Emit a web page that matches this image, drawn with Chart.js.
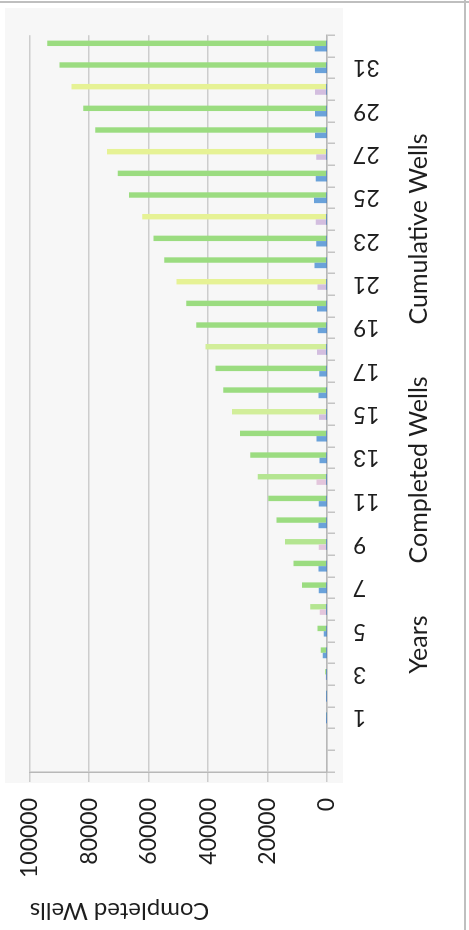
<!DOCTYPE html>
<html>
<head>
<meta charset="utf-8">
<title>Completed Wells</title>
<script src="https://cdn.jsdelivr.net/npm/chart.js@4.4.1/dist/chart.umd.min.js"></script>
<style>
    html, body { margin: 0; padding: 0; background: #fff; overflow: hidden; }
    /* the chart is laid out landscape and turned a quarter turn onto the page */
    #wrap {
        position: absolute;
        left: 0;
        top: 0;
        width: 930px;
        height: 469px;
        transform-origin: 0 0;
        transform: translateY(930px) rotate(-90deg);
    }
</style>
</head>
<body>
<div id="wrap"><canvas id="wellsChart" width="930" height="469"></canvas></div>
<script>
// Categories: two empty slots before year 1
const categories = ['', '', '1', '2', '3', '4', '5', '6', '7', '8', '9', '10', '11', '12', '13', '14', '15', '16',
    '17', '18', '19', '20', '21', '22', '23', '24', '25', '26', '27', '28', '29', '30', '31', '32'];

const years = [null, null, 1, 2, 3, 4, 5, 6, 7, 8, 9, 10, 11, 12, 13, 14, 15, 16,
    17, 18, 19, 20, 21, 22, 23, 24, 25, 26, 27, 28, 29, 30, 31, 32];

const completedWells = [null, null, 100, 200, 400, 1400, 1100, 2400, 2800, 2900, 2800, 2900, 2800, 3500, 2500, 3500,
    2700, 2900, 2600, 3400, 3100, 3400, 3200, 4200, 3600, 3800, 4400, 3800, 3600, 4000, 4000, 4000, 4000, 4100];

const cumulativeWells = [null, null, 100, 300, 700, 2100, 3200, 5600, 8400, 11300, 14100, 17000, 19800, 23300, 25800, 29300,
    32000, 34900, 37500, 40900, 44000, 47400, 50600, 54800, 58400, 62200, 66600, 70400, 74000, 78000, 82000, 86000, 90000, 94100];

const valueTicks = [0, 20000, 40000, 60000, 80000, 100000];

Chart.defaults.font.family = 'Lato, "Open Sans", sans-serif';
Chart.defaults.color = '#1e1e1e';

// every third row prints with a washed-out tint, stronger towards the later years
const greenFill = ctx => {
    if (ctx.dataIndex % 3 !== 1) return '#9bdc80';
    if (ctx.dataIndex >= 22) return '#e6f295';
    if (ctx.dataIndex >= 16) return '#d2ee9a';
    return '#b4e591';
};
const blueFill = ctx => {
    if (ctx.dataIndex % 3 !== 1) return '#6aa2da';
    return ctx.dataIndex >= 16 ? '#d3bedf' : '#e3c6dc';
};

// plot backdrop and the outer frame lines
const frame = {
    id: 'frame',
    beforeDraw(chart) {
        const { ctx, width, height } = chart;
        ctx.save();
        ctx.fillStyle = '#f7f7f7';
        ctx.fillRect(147, 5, 775, 338);
        ctx.strokeStyle = '#bfbfbf';
        ctx.lineWidth = 2;
        ctx.beginPath();
        ctx.moveTo(width - 2, 0);
        ctx.lineTo(width - 2, height);
        ctx.moveTo(0, height - 4);
        ctx.lineTo(width, height - 4);
        ctx.stroke();
        ctx.restore();
    }
};

// text-only legend row, centred under the plot
const legendRow = {
    id: 'legendRow',
    afterDraw(chart) {
        const { ctx, chartArea } = chart;
        const gap = 52;
        ctx.save();
        ctx.font = '25px Lato, "Open Sans", sans-serif';
        ctx.fillStyle = '#1e1e1e';
        ctx.textBaseline = 'alphabetic';
        const labels = chart.data.datasets.map(d => d.label);
        const widths = labels.map(t => ctx.measureText(t).width);
        const total = widths.reduce((s, w) => s + w, 0) + gap * (labels.length - 1);
        let x = (chartArea.left + chartArea.right) / 2 - total / 2;
        labels.forEach((t, i) => {
            ctx.fillText(t, x, 427);
            x += widths[i] + gap;
        });
        ctx.restore();
    }
};

const wellsCtx = document.getElementById('wellsChart').getContext('2d');
const wellsChart = new Chart(wellsCtx, {
    type: 'bar',
    data: {
        labels: categories,
        datasets: [{
            label: 'Years',
            data: years,
            backgroundColor: '#4f81bd',
            grouped: false,
            borderWidth: 0
        }, {
            label: 'Completed Wells',
            data: completedWells,
            backgroundColor: blueFill,
            borderWidth: 0
        }, {
            label: 'Cumulative Wells',
            data: cumulativeWells,
            backgroundColor: greenFill,
            borderWidth: 0
        }]
    },
    options: {
        responsive: false,
        animation: false,
        categoryPercentage: 0.5,
        barPercentage: 1,
        layout: { padding: { top: 22, right: 29, bottom: 0, left: 0 } },
        plugins: {
            legend: { display: false },
            tooltip: { enabled: false }
        },
        scales: {
            x: {
                offset: true,
                afterFit(scale) { scale.height = 142; },
                grid: {
                    offset: true,
                    drawOnChartArea: false,
                    drawTicks: true,
                    tickLength: 8,
                    color: '#c4c4c4',
                    lineWidth: 1.5
                },
                border: { display: true, color: '#b8b8b8', width: 1.5 },
                ticks: {
                    autoSkip: false,
                    maxRotation: 90,
                    minRotation: 90,
                    padding: 18,
                    font: { size: 23 },
                    callback: (value, index) => (index % 2 === 0 ? categories[index] : '')
                }
            },
            y: {
                min: 0,
                max: 100000,
                afterFit(scale) { scale.width = 158; },
                afterBuildTicks(scale) { scale.ticks = valueTicks.map(v => ({ value: v })); },
                grid: {
                    color: '#cdcdcd',
                    lineWidth: 1.5,
                    drawTicks: true,
                    tickLength: 10
                },
                border: { display: true, color: '#b8b8b8', width: 1.5 },
                ticks: {
                    padding: 16,
                    font: { size: 23 },
                    callback: v => String(v)
                },
                title: {
                    display: true,
                    text: 'Completed Wells',
                    align: 'end',
                    padding: { top: 5, bottom: 0 },
                    font: { size: 24 }
                }
            }
        }
    },
    plugins: [frame, legendRow]
});
</script>
</body>
</html>
